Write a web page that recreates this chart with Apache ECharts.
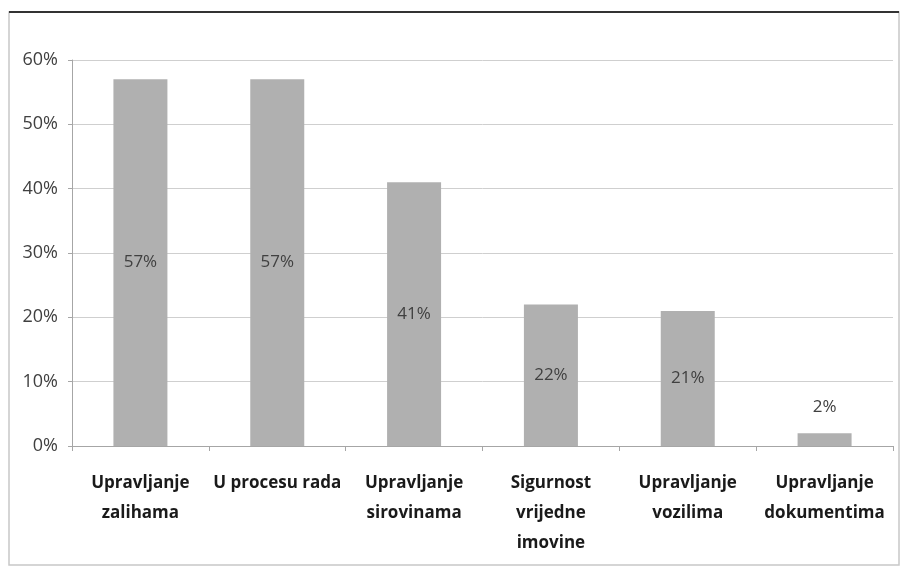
<!DOCTYPE html>
<html>
<head>
<meta charset="utf-8">
<script src="https://cdn.jsdelivr.net/npm/echarts@6/dist/echarts.min.js"></script>
<style>
  html, body { margin: 0; padding: 0; background: #fff; }
  #chart { width: 905px; height: 573px; }
</style>
</head>
<body>
<div id="chart"></div>
<script>
// kategorije i postoci
const categories = [
  'Upravljanje\nzalihama',
  'U procesu rada',
  'Upravljanje\nsirovinama',
  'Sigurnost\nvrijedne\nimovine',
  'Upravljanje\nvozilima',
  'Upravljanje\ndokumentima'
]
const values = [57, 57, 41, 22, 21, 2]
const yTicks = [0, 10, 20, 30, 40, 50, 60]

const chart = echarts.init(document.getElementById('chart'))

const seriesData = values.map((v) => {
  return {
    value: v,
    // mali stupac ima oznaku iznad
    label: { position: v < 5 ? 'top' : 'inside', distance: 17 }
  }
})

const option = {
  animation: false,
  textStyle: { fontFamily: 'Open Sans' },
  graphic: [
    {
      type: 'rect',
      shape: { x: 9, y: 12, width: 890, height: 553 },
      style: { fill: 'none', stroke: '#c8c8c8', lineWidth: 1.5 }
    },
    {
      type: 'line',
      shape: { x1: 9, y1: 12, x2: 899, y2: 12 },
      style: { stroke: '#333', lineWidth: 2 }
    }
  ],
  grid: { left: 72, right: 12, top: 60, bottom: 127 },
  xAxis: {
    type: 'category',
    data: categories,
    axisLine: { lineStyle: { color: '#a6a6a6' } },
    axisTick: { show: true, length: 5, lineStyle: { color: '#a6a6a6' } },
    axisLabel: {
      color: '#1a1a1a',
      fontSize: 17,
      fontWeight: 'bold',
      lineHeight: 30,
      margin: 22,
      interval: 0
    }
  },
  yAxis: {
    type: 'value',
    min: yTicks[0],
    max: yTicks[yTicks.length - 1],
    interval: 10,
    axisLine: { show: true, lineStyle: { color: '#a6a6a6' } },
    axisTick: { show: true, length: 4, lineStyle: { color: '#a6a6a6' } },
    splitLine: { lineStyle: { color: '#cfcfcf' } },
    axisLabel: {
      color: '#404040',
      fontSize: 18,
      margin: 14,
      formatter: '{value}%'
    }
  },
  series: [
    {
      type: 'bar',
      data: seriesData,
      barWidth: 54,
      itemStyle: { color: '#b0b0b0' },
      label: {
        show: true,
        color: '#404040',
        fontSize: 17,
        formatter: '{c}%'
      }
    }
  ]
}

chart.setOption(option)
</script>
</body>
</html>
